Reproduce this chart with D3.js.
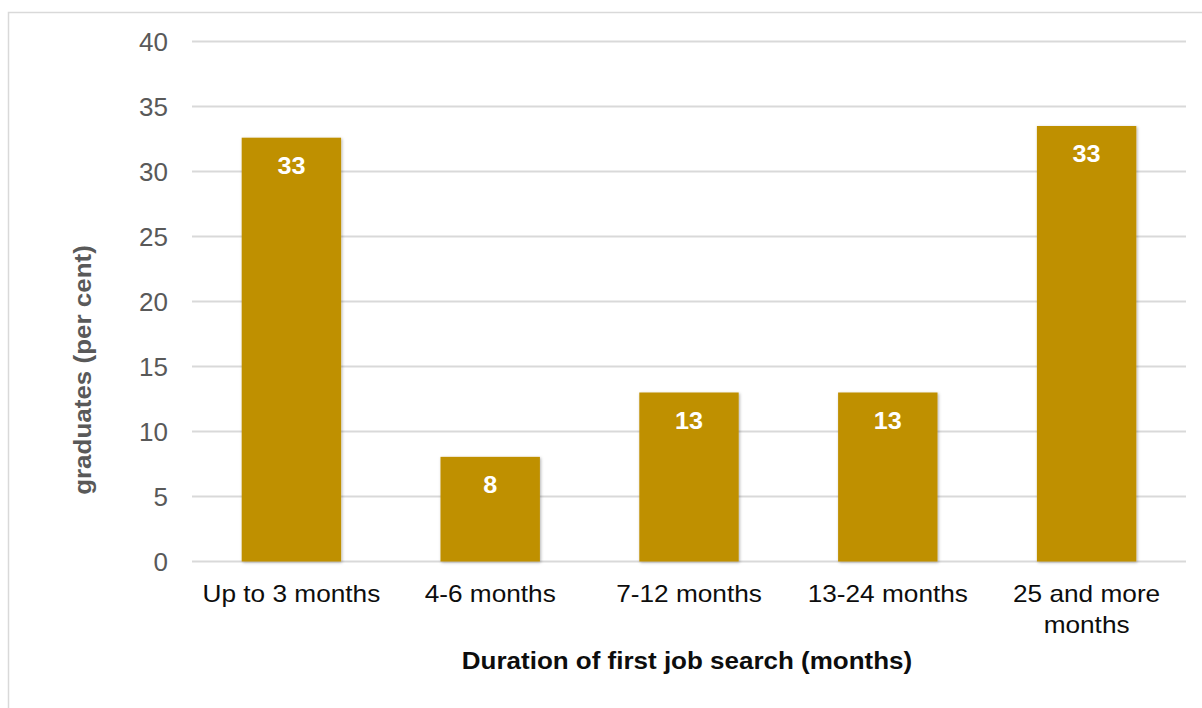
<!DOCTYPE html>
<html lang="en">
  <head>
    <meta charset="UTF-8" />
    <title>Duration of first job search</title>
    <style>
      body {
        margin: 0;
        background-color: white;
        font-family: "Liberation Sans", Arial, sans-serif;
      }
      .grid line {
        stroke: #d9d9d9;
        stroke-width: 2px;
      }
    </style>
  </head>
  <body>
    <script src="https://d3js.org/d3.v7.min.js"></script>
    <svg id="chart" width="1202" height="708"></svg>
    <script>
      // data
      var categories = [
        "Up to 3 months",
        "4-6 months",
        "7-12 months",
        "13-24 months",
        "25 and more months",
      ];
      var values = [32.6, 8.05, 13.0, 13.0, 33.5];
      var valueLabels = ["33", "8", "13", "13", "33"];
      var yTicks = [0, 5, 10, 15, 20, 25, 30, 35, 40];

      var svg = d3.select("#chart");

      // the original picture is a bit stretched sideways, so text gets a scaleX
      function stretched(parent, px, py, sx) {
        return parent
          .append("text")
          .attr("transform", "translate(" + px + "," + py + ") scale(" + sx + ",1)");
      }

      // outer frame
      svg
        .append("rect")
        .attr("x", 8.5)
        .attr("y", 12.5)
        .attr("width", 1220)
        .attr("height", 720)
        .attr("fill", "none")
        .attr("stroke", "#d9d9d9")
        .attr("stroke-width", 1.5);

      var x = d3
        .scaleBand()
        .domain(categories)
        .range([192, 1186])
        .paddingInner(0.5)
        .paddingOuter(0.25);

      var y = d3.scaleLinear().domain([0, 40]).range([561.5, 41.5]);

      // soft shadow for bars
      var f = svg
        .append("defs")
        .append("filter")
        .attr("id", "shadow")
        .attr("x", "-10%")
        .attr("y", "-10%")
        .attr("width", "130%")
        .attr("height", "130%");
      f.append("feDropShadow")
        .attr("dx", 1)
        .attr("dy", 1)
        .attr("stdDeviation", 1.5)
        .attr("flood-color", "#000")
        .attr("flood-opacity", 0.3);

      // gridlines
      svg
        .append("g")
        .attr("class", "grid")
        .selectAll("line")
        .data(yTicks)
        .enter()
        .append("line")
        .attr("x1", 192)
        .attr("x2", 1186)
        .attr("y1", function (d) {
          return y(d);
        })
        .attr("y2", function (d) {
          return y(d);
        });

      // y tick labels
      var yAxis = d3.axisLeft(y).tickValues(yTicks).tickSize(0).tickPadding(0);
      var gy = svg.append("g").attr("transform", "translate(168,0)").call(yAxis);
      gy.select(".domain").remove();
      gy.selectAll("text")
        .attr("font-size", "26px")
        .attr("font-family", "Liberation Sans, Arial, sans-serif")
        .attr("fill", "#595959")
        .attr("dy", "0.36em");

      // bars
      svg
        .append("g")
        .selectAll("rect")
        .data(values)
        .enter()
        .append("rect")
        .attr("x", function (d, i) {
          return x(categories[i]);
        })
        .attr("width", x.bandwidth())
        .attr("y", function (d) {
          return y(d);
        })
        .attr("height", function (d) {
          return y(0) - y(d);
        })
        .attr("fill", "#bf9000")
        .attr("filter", "url(#shadow)");

      // value labels
      var vl = svg.append("g");
      values.forEach(function (d, i) {
        stretched(vl, x(categories[i]) + x.bandwidth() / 2, y(d) + 36, 1.05)
          .attr("text-anchor", "middle")
          .attr("font-size", "24px")
          .attr("font-weight", "bold")
          .attr("fill", "white")
          .text(valueLabels[i]);
      });

      // category labels, last one wraps like in the original
      var catLines = {
        "25 and more months": ["25 and more", "months"],
      };
      var xl = svg.append("g");
      categories.forEach(function (c) {
        var lines = catLines[c] || [c];
        var t = stretched(xl, x(c) + x.bandwidth() / 2, 601.5, 1.14)
          .attr("text-anchor", "middle")
          .attr("font-size", "23px")
          .attr("fill", "#0d0d0d");
        lines.forEach(function (l, i) {
          t.append("tspan")
            .attr("x", 0)
            .attr("dy", i === 0 ? 0 : 31.5)
            .text(l);
        });
      });

      // axis titles
      stretched(svg, 687, 669, 1.13)
        .attr("text-anchor", "middle")
        .attr("font-size", "23px")
        .attr("font-weight", "bold")
        .attr("fill", "#0d0d0d")
        .text("Duration of first job search (months)");

      svg
        .append("text")
        .attr("transform", "translate(91,370) rotate(-90) scale(1.13,1)")
        .attr("text-anchor", "middle")
        .attr("font-size", "23px")
        .attr("font-weight", "bold")
        .attr("fill", "#595959")
        .text("graduates (per cent)");
    </script>
  </body>
</html>
